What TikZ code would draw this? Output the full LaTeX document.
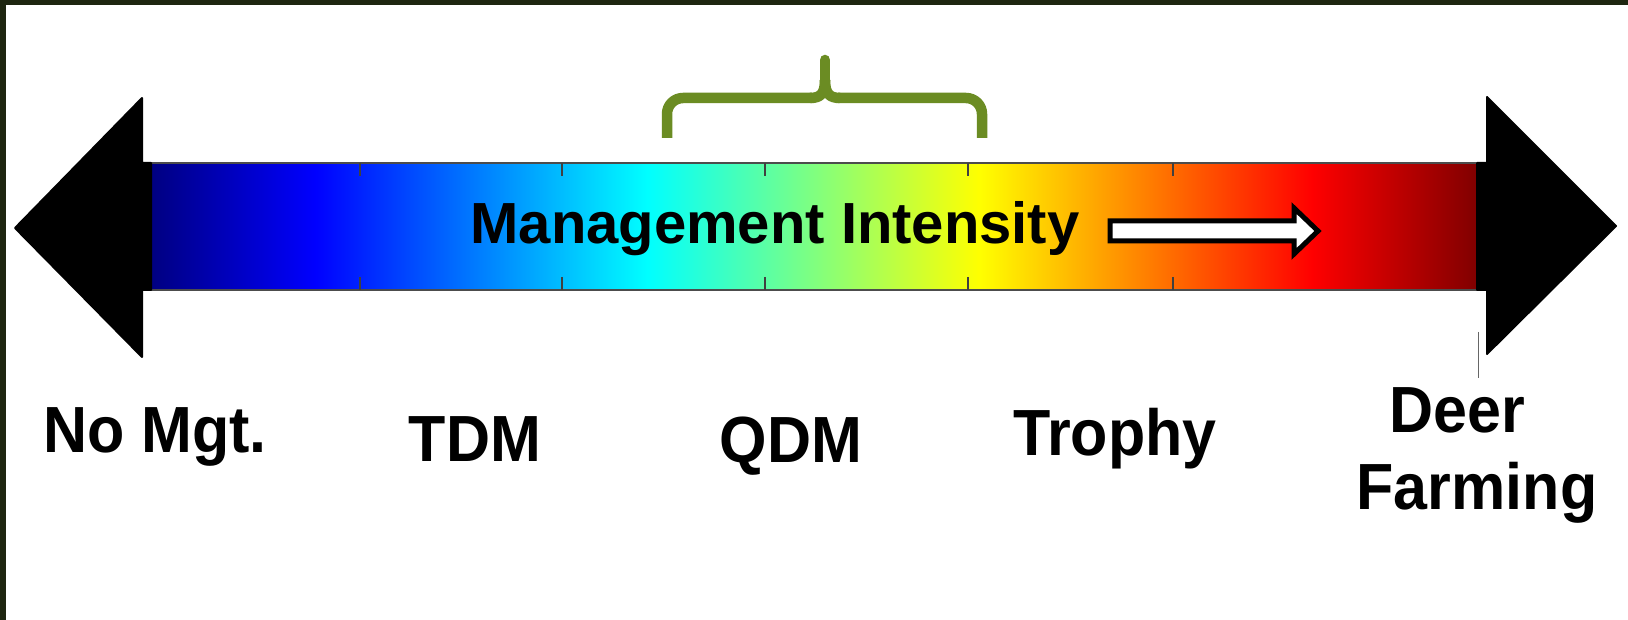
\documentclass[tikz,border=0pt]{standalone}
\usepackage{fontspec}
\setmainfont{Liberation Sans}
\usepackage{graphicx}
\definecolor{framecol}{RGB}{30,38,16}
\definecolor{bracecol}{RGB}{107,140,35}
\pgfdeclarehorizontalshading{jet}{100bp}{rgb(0bp)=(0,0,0.5); rgb(25bp)=(0,0,0.5); rgb(31.25bp)=(0,0,1); rgb(43.75bp)=(0,1,1); rgb(56.25bp)=(1,1,0); rgb(68.75bp)=(1,0,0); rgb(75bp)=(0.5,0,0); rgb(100bp)=(0.5,0,0)}
\tikzset{
  headshape/.style={fill=black, draw=black, line width=2pt, line join=round},
  tickmark/.style={draw=black!75, line width=1.2pt},
  label/.style={anchor=base, inner sep=0pt, font=\fontsize{61}{61}\selectfont\bfseries},
  title/.style={anchor=base, inner sep=0pt, font=\fontsize{58}{58}\selectfont\bfseries},
  bracestyle/.style={draw=bracecol, line width=10.5pt, line join=round},
}
\newcommand{\tallt}[1]{\scalebox{1}[1.07]{#1}}
\begin{document}
\begin{tikzpicture}[x=1pt,y=-1pt]
\useasboundingbox (0,0) rectangle (1628,620);
\fill[white] (0,0) rectangle (1628,620);
\fill[framecol] (0,0) rectangle (1628,5);
\fill[framecol] (0,0) rectangle (6,620);
% bar
\shade[shading=jet] (149,163) rectangle (1478,290);
\draw[black!70, line width=1.5pt] (149,163) -- (1478,163);
\draw[black!70, line width=1.5pt] (149,290) -- (1478,290);
\foreach \x in {360,562,765,968,1173} {
  \draw[tickmark] (\x,163) -- (\x,176);
  \draw[tickmark] (\x,277) -- (\x,290);
}
% arrow heads
\filldraw[headshape] (151,163) -- (142,163) -- (142,98) -- (15,228) -- (142,357) -- (142,290) -- (151,290) -- cycle;
\filldraw[headshape] (1477,163) -- (1487,163) -- (1487,97) -- (1616,226) -- (1487,354) -- (1487,290) -- (1477,290) -- cycle;
\draw[black!60, line width=0.8pt] (1478,332) -- (1478,378);
% brace
\draw[bracestyle, line cap=butt, rounded corners=16pt] (667,138) -- (667,98) -- (812,98);
\draw[bracestyle, line cap=butt] (810,98) .. controls (821,98) and (825,93) .. (825,80);
\draw[bracestyle, line cap=butt, rounded corners=16pt] (982,138) -- (982,98) -- (838,98);
\draw[bracestyle, line cap=butt] (840,98) .. controls (829,98) and (825,93) .. (825,80);
\draw[bracestyle, line cap=round] (825,84) -- (825,60);
% title
\node[title] (title) at (775,244) {Management Intensity};
\draw[fill=white, draw=black, line width=5pt, line join=miter]
  (1110,221) -- (1294,221) -- (1294,208) -- (1318,231) -- (1294,254) -- (1294,241) -- (1110,241) -- cycle;
% labels
\node[label] (nomgt) at (155,452) {\tallt{No Mgt.}};
\node[label] (tdm) at (475,461) {\tallt{TDM}};
\node[label] (qdm) at (791,462) {\tallt{QDM}};
\node[label] (trophy) at (1115,455) {\tallt{Trophy}};
\node[label] (deer) at (1457,432) {\tallt{Deer}};
\node[label] (farming) at (1477,509) {\tallt{Farming}};
\end{tikzpicture}
\end{document}
